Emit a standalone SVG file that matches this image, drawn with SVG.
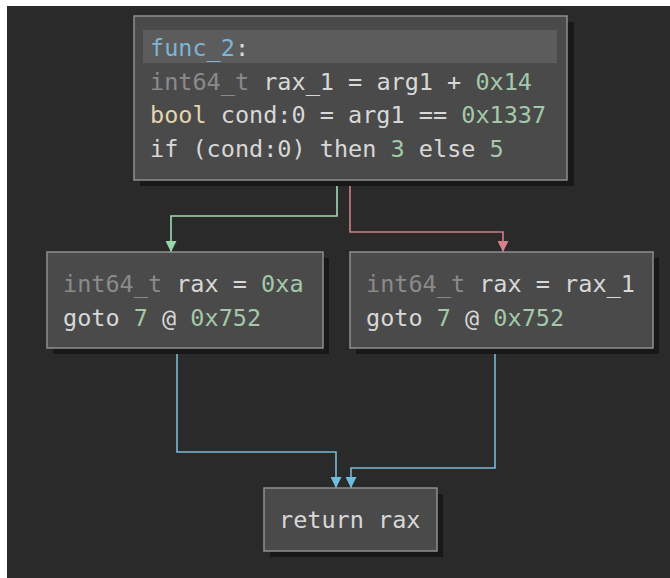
<svg xmlns="http://www.w3.org/2000/svg" width="670" height="578" viewBox="0 0 670 578">
<defs>
<style>
.shadow{fill:#181818}
.box{fill:#4a4a4a;stroke:#8e8e8e;stroke-width:1.5}
text{font-family:"DejaVu Sans Mono","Liberation Mono",monospace;font-size:23.5px;fill:#d8d8d8}
.dim{fill:#8a8a8a}
.num{fill:#a3c9a9}
.blue{fill:#7fb4d4}
.kw{fill:#e2d6ae}
.edge{fill:none;stroke-width:1.6}
</style>
<marker id="ag" viewBox="0 0 10 10" refX="5" refY="10" markerWidth="11" markerHeight="11" markerUnits="userSpaceOnUse"><path d="M0,0 L10,0 L5,10 Z" fill="#96d6a8"/></marker>
<marker id="ar" viewBox="0 0 10 10" refX="5" refY="10" markerWidth="11" markerHeight="11" markerUnits="userSpaceOnUse"><path d="M0,0 L10,0 L5,10 Z" fill="#d8808c"/></marker>
<marker id="ab" viewBox="0 0 10 10" refX="5" refY="10" markerWidth="11" markerHeight="11" markerUnits="userSpaceOnUse"><path d="M0,0 L10,0 L5,10 Z" fill="#6cbde0"/></marker>
</defs>
<rect x="0" y="0" width="670" height="578" fill="#ffffff"/>
<rect x="7" y="6" width="663" height="572" fill="#2a2a2a"/>

<g id="connectors">
<path class="edge" stroke="#a6d8b4" d="M337,180 V216 H171 V252" marker-end="url(#ag)"/>
<path class="edge" stroke="#cf7f8a" d="M350,180 V232 H503 V252" marker-end="url(#ar)"/>
<path class="edge" stroke="#7ab8d2" d="M177,348 V452 H336 V488" marker-end="url(#ab)"/>
<path class="edge" stroke="#7ab8d2" d="M495,348 V468 H351 V488" marker-end="url(#ab)"/>
</g>

<g id="node-func2">
<rect class="shadow" x="140" y="22" width="434" height="164"/>
<rect class="box" x="134" y="16" width="433" height="164"/>
<rect x="143" y="30" width="414" height="33" fill="#5c5c5c"/>
<text x="150" y="56"><tspan class="blue">func_2</tspan>:</text>
<text x="150" y="90"><tspan class="dim">int64_t</tspan> rax_1 = arg1 + <tspan class="num">0x14</tspan></text>
<text x="150" y="123"><tspan class="kw">bool</tspan> cond:0 = arg1 == <tspan class="num">0x1337</tspan></text>
<text x="150" y="157">if (cond:0) then <tspan class="num">3</tspan> else <tspan class="num">5</tspan></text>
</g>

<g id="node-left">
<rect class="shadow" x="53" y="258" width="276" height="96"/>
<rect class="box" x="47" y="252" width="276" height="96"/>
<text x="63" y="292"><tspan class="dim">int64_t</tspan> rax = <tspan class="num">0xa</tspan></text>
<text x="63" y="326">goto <tspan class="num">7</tspan> @ <tspan class="num">0x752</tspan></text>
</g>

<g id="node-right">
<rect class="shadow" x="356" y="258" width="303" height="96"/>
<rect class="box" x="350" y="252" width="303" height="96"/>
<text x="366" y="292"><tspan class="dim">int64_t</tspan> rax = rax_1</text>
<text x="366" y="326">goto <tspan class="num">7</tspan> @ <tspan class="num">0x752</tspan></text>
</g>

<g id="node-return">
<rect class="shadow" x="270" y="494" width="173" height="63"/>
<rect class="box" x="264" y="488" width="173" height="63"/>
<text x="279" y="528">return rax</text>
</g>
</svg>
